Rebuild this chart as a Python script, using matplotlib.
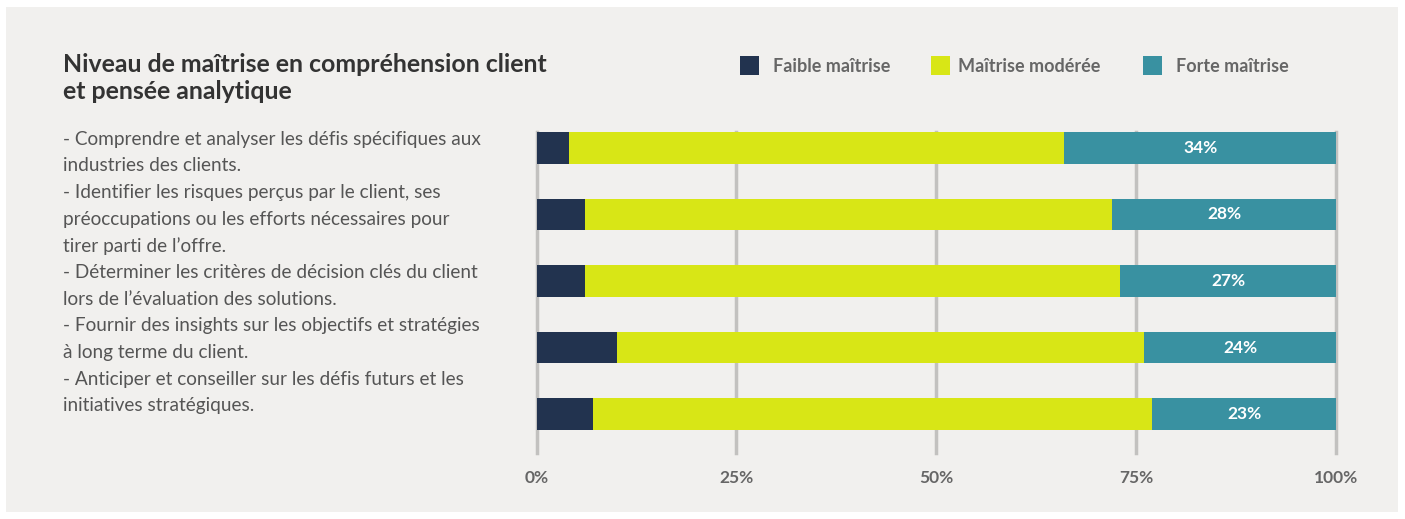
import numpy as np
import matplotlib.pyplot as plt
from matplotlib.patches import Rectangle

plt.rcParams['font.family'] = ['Lato', 'DejaVu Sans']

# Data (percent of respondents per row)
levels = ['Faible maîtrise', 'Maîtrise modérée', 'Forte maîtrise']
faible = [4, 6, 6, 10, 7]
moderee = [62, 66, 67, 66, 70]
forte = [34, 28, 27, 24, 23]
ticks = [0, 25, 50, 75, 100]
tick_labels = ['0%', '25%', '50%', '75%', '100%']

title = "Niveau de maîtrise en compréhension client\net pensée analytique"
body = ["- Comprendre et analyser les défis spécifiques aux",
        "industries des clients.",
        "- Identifier les risques perçus par le client, ses",
        "préoccupations ou les efforts nécessaires pour",
        "tirer parti de l’offre.",
        "- Déterminer les critères de décision clés du client",
        "lors de l’évaluation des solutions.",
        "- Fournir des insights sur les objectifs et stratégies",
        "à long terme du client.",
        "- Anticiper et conseiller sur les défis futurs et les",
        "initiatives stratégiques."]

colors = ['#22334f', '#d8e616', '#3991a1']
bg = '#f1f0ee'

W, H = 1405, 519
fig = plt.figure(figsize=(W / 100, H / 100), dpi=100, facecolor='white')

# light panel behind everything
fig.patches.append(Rectangle((6 / W, 7 / H), 1392 / W, 505 / H, transform=fig.transFigure,
                             facecolor=bg, edgecolor='none', zorder=-1))

# axes placed in pixel terms
left, right, top, bottom = 535, 1337, 132, 453
ax = fig.add_axes([left / W, (H - bottom) / H, (right - left) / W, (bottom - top) / H])
ax.set_facecolor('none')
ax.set_zorder(1)

y = np.arange(len(faible))
h = 0.48
ax.barh(y, faible, height=h, color=colors[0], zorder=3)
ax.barh(y, moderee, left=faible, height=h, color=colors[1], zorder=3)
start = np.array(faible) + np.array(moderee)
ax.barh(y, forte, left=start, height=h, color=colors[2], zorder=3)
for yi, s, v in zip(y, start, forte):
    ax.text(s + v / 2, yi, f'{v}%', color='white', fontsize=12.5, fontweight='bold',
            ha='center', va='center', zorder=4)

ax.set_xlim(-0.2, 100.1)
ax.set_ylim(4.586, -0.24)
ax.set_xticks(ticks)
ax.set_xticklabels(tick_labels)
ax.set_yticks([])
for t in ax.get_xticklabels():
    t.set_fontweight('bold')
ax.tick_params(axis='x', length=0, pad=12, labelsize=12.5, labelcolor='#666666')
ax.grid(axis='x', color='#c2c1bf', linewidth=2.5, zorder=1)
for gl in ax.get_xgridlines():
    gl.set_clip_on(False)
for s in ax.spines.values():
    s.set_visible(False)

# title and description
fig.text(63 / W, 1 - 53 / H, title, fontsize=17.9, fontweight='bold', color='#333333',
         va='top', ha='left', linespacing=1.2)
for i, line in enumerate(body):
    fig.text(63 / W, 1 - (139 + 26.7 * i) / H, line, fontsize=13.7, color='#555555',
             va='center', ha='left')

# legend
leg_sq = [740, 931, 1143]
leg_txt = [773, 958, 1176]
for sx, tx, name, c in zip(leg_sq, leg_txt, levels, colors):
    fig.patches.append(Rectangle((sx / W, 1 - 75 / H), 19 / W, 19 / H, transform=fig.transFigure,
                                 facecolor=c, edgecolor='none', zorder=2))
    fig.text(tx / W, 1 - 66 / H, name, fontsize=13, fontweight='bold', color='#666666',
             va='center', ha='left')

fig.savefig('out.png', dpi=100, facecolor='white')
